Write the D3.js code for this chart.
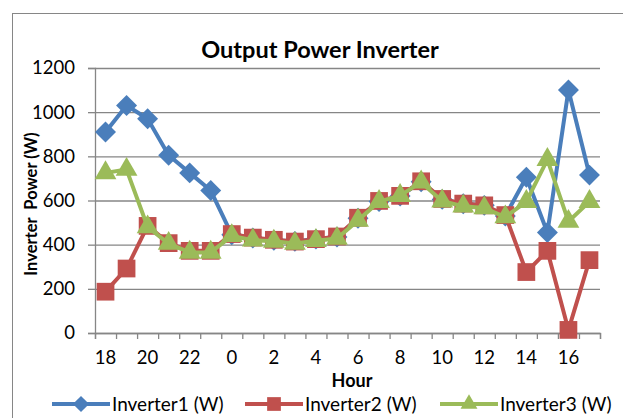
<!DOCTYPE html>
<html>
<head>
<meta charset="utf-8">
<script src="https://cdn.jsdelivr.net/npm/d3@7"></script>
<style>
  body { margin: 0; background: #fff; }
  svg text { font-family: Lato, "Open Sans", sans-serif; fill: #000; }
</style>
</head>
<body>
<svg width="623" height="418"></svg>
<script>
const hours = [18, 19, 20, 21, 22, 23, 0, 1, 2, 3, 4, 5, 6, 7, 8, 9, 10, 11, 12, 13, 14, 15, 16, 17];
const hourTicks = [18, 20, 22, 0, 2, 4, 6, 8, 10, 12, 14, 16];
const inverter1 = [910, 1030, 970, 805, 725, 645, 445, 430, 420, 415, 425, 435, 520, 595, 620, 685, 605, 585, 578, 530, 705, 455, 1100, 715];
const inverter2 = [187, 292, 485, 407, 372, 372, 448, 432, 422, 414, 425, 437, 522, 598, 621, 687, 607, 586, 578, 534, 276, 372, 14, 330];
const inverter3 = [725, 740, 480, 405, 365, 365, 440, 420, 415, 405, 418, 428, 510, 595, 622, 683, 597, 574, 566, 525, 595, 785, 505, 595];
const yTicks = [0, 200, 400, 600, 800, 1000, 1200];

const seriesNames = ["Inverter1 (W)", "Inverter2 (W)", "Inverter3 (W)"];
const colors = ["#4A7EBB", "#C0504D", "#9BBB59"];
const shapes = [d3.symbolDiamond2, d3.symbolSquare2, d3.symbolTriangle2];

const svg = d3.select("svg");
const margin = { top: 68, left: 95, right: 23, bottom: 85 };
const w = 623 - margin.left - margin.right;
const h = 418 - margin.top - margin.bottom;

// outer chart border
svg.append("rect")
  .attr("x", 12.5).attr("y", 13.5)
  .attr("width", 640).attr("height", 430)
  .attr("fill", "none").attr("stroke", "#868686").attr("stroke-width", 1);

svg.append("text")
  .text("Output Power Inverter")
  .attr("x", 320).attr("y", 58)
  .attr("text-anchor", "middle")
  .attr("font-weight", "bold")
  .attr("font-size", 23.5);

const g = svg.append("g").attr("transform", `translate(${margin.left},${margin.top})`);

const x = d3.scaleBand().domain(d3.range(hours.length)).range([0, w]);
const xIdx = d3.scaleLinear().domain([0, hours.length]).range([0, w]);
const y = d3.scaleLinear().domain([0, 1200]).range([h, 0]);

// gridlines
g.append("g")
  .call(d3.axisLeft(y).tickValues(yTicks).tickSize(-w).tickFormat(""))
  .call(a => a.select(".domain").remove())
  .selectAll("line").attr("stroke", "#868686").attr("stroke-width", 1.3);

// y axis
const yAxis = g.append("g")
  .call(d3.axisLeft(y).tickValues(yTicks).tickSize(7).tickPadding(13).tickFormat(d3.format("d")));
yAxis.selectAll("line, .domain").attr("stroke", "#868686").attr("stroke-width", 1.3);
yAxis.selectAll("text").attr("font-size", 18.5).attr("font-family", "Lato, sans-serif");

// x axis tick marks at category boundaries
const xAxis = g.append("g")
  .attr("transform", `translate(0,${h})`)
  .call(d3.axisBottom(xIdx).tickValues(d3.range(hours.length + 1)).tickSize(6).tickFormat(""));
xAxis.selectAll("line, .domain").attr("stroke", "#868686").attr("stroke-width", 1.3);

// x labels every second hour
const xLab = g.append("g")
  .attr("transform", `translate(0,${h})`)
  .call(d3.axisBottom(x)
    .tickValues(hourTicks.map(t => hours.indexOf(t)))
    .tickFormat(i => hours[i])
    .tickSize(0).tickPadding(18));
xLab.select(".domain").remove();
xLab.selectAll("text").attr("font-size", 18.5).attr("font-family", "Lato, sans-serif");

// axis titles
svg.append("text")
  .text("Hour")
  .attr("x", 352).attr("y", 387)
  .attr("text-anchor", "middle")
  .attr("font-weight", "bold")
  .attr("font-size", 18);

svg.append("text")
  .text("Inverter  Power (W)")
  .attr("transform", "translate(37,204) rotate(-90)")
  .attr("text-anchor", "middle")
  .attr("font-weight", "bold")
  .attr("font-size", 16.5)
  .style("white-space", "pre");

const cx = i => x(i) + x.bandwidth() / 2;
const line = d3.line().x((d, i) => cx(i)).y(d => y(d));
const symbolSizes = [280, 400, 340];

[inverter1, inverter2, inverter3].forEach((data, s) => {
  const sg = g.append("g");
  sg.append("path")
    .datum(data)
    .attr("d", line)
    .attr("fill", "none")
    .attr("stroke", colors[s])
    .attr("stroke-width", 4)
    .attr("stroke-linejoin", "round");
  sg.selectAll("path.m")
    .data(data)
    .enter()
    .append("path")
    .attr("class", "m")
    .attr("d", d3.symbol(shapes[s], symbolSizes[s]))
    .attr("transform", (d, i) => `translate(${cx(i)},${y(d)})`)
    .attr("fill", colors[s]);
});

// legend
const legendX = [52, 245, 440];
const legend = svg.append("g").attr("transform", "translate(0,404)");
seriesNames.forEach((name, s) => {
  const lg = legend.append("g").attr("transform", `translate(${legendX[s]},0)`);
  lg.append("line")
    .attr("x1", 0).attr("x2", 58)
    .attr("stroke", colors[s]).attr("stroke-width", 4);
  lg.append("path")
    .attr("d", d3.symbol(shapes[s], symbolSizes[s] * 0.6))
    .attr("transform", "translate(29,0)")
    .attr("fill", colors[s]);
  lg.append("text")
    .text(name)
    .attr("x", 60).attr("y", 6.5)
    .attr("font-size", 19);
});
</script>
</body>
</html>
